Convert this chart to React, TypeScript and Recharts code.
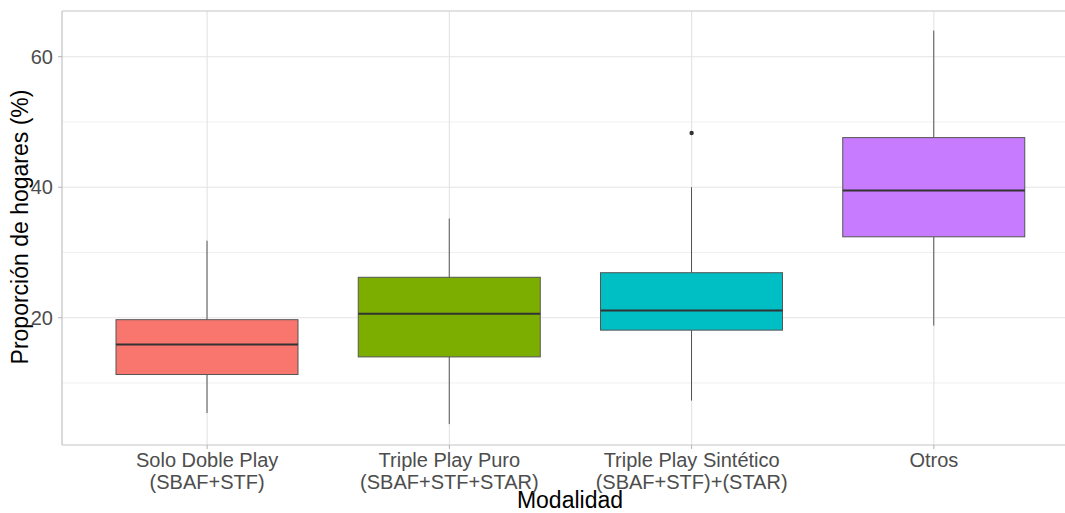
import {
  ComposedChart,
  Bar,
  Scatter,
  XAxis,
  YAxis,
  CartesianGrid,
  ReferenceLine,
  Label,
} from 'recharts';

const categories = [
  'Solo Doble Play\n(SBAF+STF)',
  'Triple Play Puro\n(SBAF+STF+STAR)',
  'Triple Play Sintético\n(SBAF+STF)+(STAR)',
  'Otros',
];
const mins = [5.4, 3.7, 7.3, 18.8];
const q1s = [11.3, 14.0, 18.1, 32.4];
const medians = [15.9, 20.6, 21.1, 39.5];
const q3s = [19.7, 26.2, 26.9, 47.6];
const maxs = [31.8, 35.2, 40.0, 64.0];
const outliers = [null, null, 48.3, null];
const fills = ['#F8766D', '#7CAE00', '#00BFC4', '#C77CFF'];

const yTicks = [20, 40, 60];
const yMinor = [10, 30, 50];

const data = categories.map((cat, i) => ({
  cat,
  min: mins[i],
  q1: q1s[i],
  median: medians[i],
  q3: q3s[i],
  max: maxs[i],
  outlier: outliers[i],
  fill: fills[i],
}));

const FONT = '"Liberation Sans", Arial, sans-serif';

// draws whiskers, box and median inside the range bar [min, max]
function BoxShape(props: any) {
  const { x, y, width, height, payload } = props;
  if (!payload || height == null) return null;
  const top = Math.min(y, y + height);
  const h = Math.abs(height);
  const ppu = h / (payload.max - payload.min);
  const py = (v: number) => top + (payload.max - v) * ppu;
  const cx = x + width / 2;
  return (
    <g>
      <line x1={cx} x2={cx} y1={py(payload.max)} y2={py(payload.q3)} stroke="#555" strokeWidth={1} />
      <line x1={cx} x2={cx} y1={py(payload.q1)} y2={py(payload.min)} stroke="#555" strokeWidth={1} />
      <rect
        x={x}
        y={py(payload.q3)}
        width={width}
        height={py(payload.q1) - py(payload.q3)}
        fill={payload.fill}
        stroke="#555"
        strokeWidth={1}
      />
      <line
        x1={x}
        x2={x + width}
        y1={py(payload.median)}
        y2={py(payload.median)}
        stroke="#333"
        strokeWidth={2}
      />
    </g>
  );
}

function OutlierDot(props: any) {
  const { cx, cy, payload } = props;
  if (!payload || payload.outlier == null || !isFinite(cy)) return null;
  return <circle cx={cx} cy={cy} r={2.2} fill="#333" />;
}

function XTick(props: any) {
  const { x, y, payload } = props;
  const lines = String(payload.value).split('\n');
  return (
    <text x={x} y={y} textAnchor="middle" fill="#4d4d4d" fontSize={20} fontFamily={FONT}>
      {lines.map((l, i) => (
        <tspan key={i} x={x} dy={i === 0 ? 16 : 22}>
          {l}
        </tspan>
      ))}
    </text>
  );
}

function YTick(props: any) {
  const { x, y, payload } = props;
  return (
    <text x={x} y={y} dy="0.36em" textAnchor="end" fill="#4d4d4d" fontSize={20} fontFamily={FONT}>
      {payload.value}
    </text>
  );
}

export default function App() {
  return (
    <div
      style={{
        position: 'absolute',
        left: 0,
        top: 0,
        width: 1065,
        height: 513,
        overflow: 'hidden',
        background: '#fff',
      }}
    >
      <ComposedChart
        width={1079}
        height={513}
        data={data}
        margin={{ top: 11, right: 0, bottom: 0, left: 0 }}
      >
        <CartesianGrid horizontalValues={yMinor} vertical={false} stroke="#ebebeb" strokeWidth={0.8} />
        <CartesianGrid horizontalValues={yTicks} stroke="#e3e3e3" strokeWidth={1.1} />
        <XAxis
          dataKey="cat"
          height={68}
          padding={{ left: 24, right: 24 }}
          tick={<XTick />}
          tickSize={4}
          tickMargin={2}
          tickLine={{ stroke: '#b3b3b3' }}
          axisLine={{ stroke: '#c4c4c4' }}
          interval={0}
        >
          <Label
            content={() => (
              <text x={570} y={508} textAnchor="middle" fill="#000" fontSize={23} fontFamily={FONT}>
                Modalidad
              </text>
            )}
          />
        </XAxis>
        <YAxis
          type="number"
          domain={[0.5, 67]}
          ticks={yTicks}
          width={62}
          tick={<YTick />}
          tickSize={4}
          tickMargin={5}
          tickLine={{ stroke: '#b3b3b3' }}
          axisLine={{ stroke: '#c4c4c4' }}
          allowDataOverflow
        >
          <Label
            content={() => (
              <text
                x={28}
                y={227}
                transform="rotate(-90, 28, 227)"
                textAnchor="middle"
                fill="#000"
                fontSize={23}
                fontFamily={FONT}
              >
                Proporción de hogares (%)
              </text>
            )}
          />
        </YAxis>
        <ReferenceLine y={67} stroke="#c4c4c4" />
        <Bar
          dataKey={(d: any) => [d.min, d.max]}
          barSize={182}
          shape={<BoxShape />}
          isAnimationActive={false}
        />
        <Scatter dataKey="outlier" shape={<OutlierDot />} isAnimationActive={false} />
      </ComposedChart>
    </div>
  );
}
